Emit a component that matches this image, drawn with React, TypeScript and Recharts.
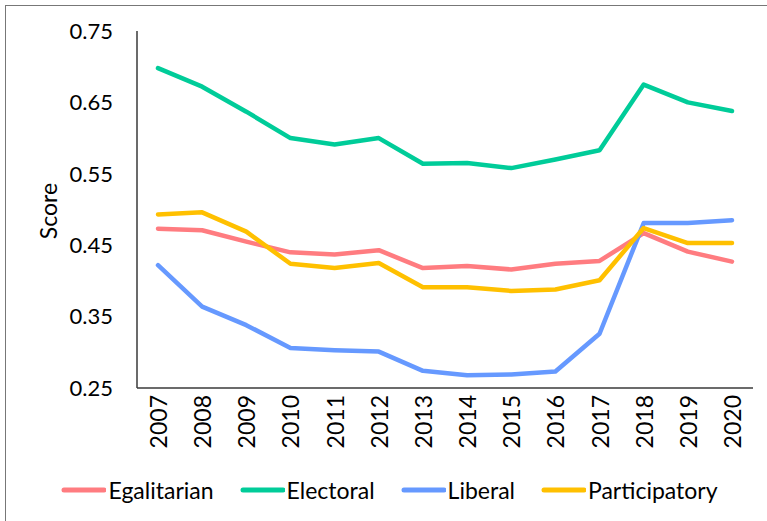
import { LineChart, Line, XAxis, YAxis, Legend } from "recharts"

const years = ["2007", "2008", "2009", "2010", "2011", "2012", "2013", "2014", "2015", "2016", "2017", "2018", "2019", "2020"]
const egalitarian = [0.473, 0.471, 0.455, 0.44, 0.437, 0.443, 0.418, 0.421, 0.416, 0.424, 0.428, 0.467, 0.441, 0.427]
const electoral = [0.698, 0.672, 0.637, 0.6, 0.591, 0.6, 0.564, 0.565, 0.558, 0.57, 0.583, 0.675, 0.65, 0.638]
const liberal = [0.422, 0.364, 0.338, 0.306, 0.303, 0.301, 0.274, 0.268, 0.269, 0.273, 0.326, 0.481, 0.481, 0.485]
const participatory = [0.493, 0.496, 0.469, 0.424, 0.418, 0.425, 0.391, 0.391, 0.386, 0.388, 0.401, 0.474, 0.453, 0.453]
const yTicks = [0.25, 0.35, 0.45, 0.55, 0.65, 0.75]

const series = [
  { key: "Egalitarian", color: "#FF7C80" },
  { key: "Electoral", color: "#00CC99" },
  { key: "Liberal", color: "#6699FF" },
  { key: "Participatory", color: "#FFC000" },
]

const data = years.map((year, i) => ({
  year,
  Egalitarian: egalitarian[i],
  Electoral: electoral[i],
  Liberal: liberal[i],
  Participatory: participatory[i],
}))

const font = "Lato, 'Noto Sans', sans-serif"
const axisColor = "#3a3a3a"

function YearTick({ x, y, payload }: any) {
  return (
    <text
      x={x}
      y={y + 7}
      transform={`rotate(-90, ${x}, ${y + 7})`}
      textAnchor="end"
      dominantBaseline="central"
      fontSize={23}
      fontFamily={font}
      fill="#000"
    >
      {payload.value}
    </text>
  )
}

function ScoreLabel() {
  // y axis title, rotated
  return (
    <text x={48} y={211} transform="rotate(-90, 48, 211)" textAnchor="middle" dominantBaseline="central" fontSize={23} fontFamily={font} fill="#000">
      Score
    </text>
  )
}

function LegendContent() {
  return (
    <div style={{ display: "flex", justifyContent: "center", alignItems: "center", gap: 26, height: 40, paddingLeft: 26, fontFamily: font, fontSize: 23, color: "#000" }}>
      {series.map((s) => (
        <div key={s.key} style={{ display: "flex", alignItems: "center", gap: 2 }}>
          <svg width={45} height={8}>
            <line x1={3} y1={4} x2={43} y2={4} stroke={s.color} strokeWidth={5} strokeLinecap="round" />
          </svg>
          <span>{s.key}</span>
        </div>
      ))}
    </div>
  )
}

export default function App() {
  return (
    <div style={{ position: "absolute", left: 0, top: 0, width: 767, height: 521, overflow: "hidden", background: "#fff" }}>
      <div style={{ position: "absolute", left: 5, top: 5, width: 800, height: 600, border: "1.5px solid #777" }} />
      <LineChart width={767} height={521} data={data} margin={{ top: 31, right: 14, bottom: 11, left: 0 }}>
        <XAxis
          dataKey="year"
          padding={{ left: 21, right: 21 }}
          tick={<YearTick />}
          tickLine={false}
          tickSize={0}
          tickMargin={0}
          height={82}
          interval={0}
          axisLine={{ stroke: axisColor, strokeWidth: 1.5 }}
        />
        <XAxis xAxisId="top" dataKey="year" orientation="top" height={0} tick={false} tickLine={false} axisLine={{ stroke: axisColor, strokeWidth: 1.5 }} />
        <YAxis
          domain={[0.25, 0.75]}
          ticks={yTicks}
          tickFormatter={(v: number) => v.toFixed(2)}
          width={137}
          tickLine={false}
          tickSize={0}
          tickMargin={24}
          axisLine={{ stroke: axisColor, strokeWidth: 1.5 }}
          tick={{ fontSize: 22, fontFamily: font, fill: "#000" }}
          label={<ScoreLabel />}
        />
        <YAxis yAxisId="right" orientation="right" domain={[0.25, 0.75]} width={0} tick={false} tickLine={false} axisLine={{ stroke: axisColor, strokeWidth: 1.5 }} />
        <Legend verticalAlign="bottom" content={<LegendContent />} />
        {series.map((s) => (
          <Line
            key={s.key}
            type="linear"
            dataKey={s.key}
            stroke={s.color}
            strokeWidth={4.5}
            strokeLinecap="round"
            strokeLinejoin="round"
            dot={false}
            activeDot={false}
            isAnimationActive={false}
          />
        ))}
      </LineChart>
    </div>
  )
}
